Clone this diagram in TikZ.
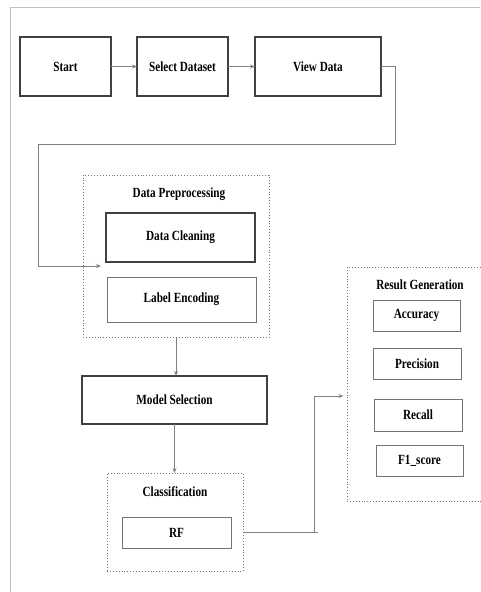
\documentclass[tikz,border=0pt]{standalone}
\usepackage{fontspec}
\setmainfont{Liberation Serif}[FakeStretch=0.8]
\usetikzlibrary{arrows.meta}
\begin{document}
\begin{tikzpicture}[x=1pt,y=-1pt,
  font=\fontsize{14}{16}\selectfont\bfseries,
  every node/.style={inner sep=0pt, outer sep=0pt, text=black},
  thickbox/.style={draw=black!75, line width=1.4pt},
  thinbox/.style={draw=black!55, line width=0.9pt},
  groupbox/.style={draw=black!55, dotted, line width=0.9pt},
  conn/.style={draw=black!50, line width=0.9pt},
  arr/.style={conn, -{Stealth[length=5pt,width=4pt]}},
  frame/.style={draw=black!25, line width=0.8pt}
]
\useasboundingbox (0,0) rectangle (480,592);
\draw[frame] (480,7) -- (10,7) -- (10,592);

% top row
\node[thickbox, minimum width=91pt, minimum height=59pt] (start) at (65.5,66.5) {Start};
\node[thickbox, minimum width=91pt, minimum height=59pt] (select) at (182.5,66.5) {Select Dataset};
\node[thickbox, minimum width=126pt, minimum height=59pt] (view) at (318,66.5) {View Data};

% preprocessing
\node[groupbox, minimum width=186pt, minimum height=162pt] (prep) at (176,256) {};
\node (preptitle) at (179,194) {Data Preprocessing};
\node[thickbox, minimum width=149pt, minimum height=49pt] (clean) at (180.5,237.5) {Data Cleaning};
\node[thinbox, minimum width=149pt, minimum height=45pt] (label) at (181.5,299.5) {Label Encoding};

% model selection
\node[thickbox, minimum width=185pt, minimum height=48pt] (model) at (174.5,400) {Model Selection};

% classification
\node[groupbox, minimum width=136pt, minimum height=98pt] (cls) at (175,522) {};
\node (clstitle) at (175,492) {Classification};
\node[thinbox, minimum width=109pt, minimum height=31pt] (rf) at (176.5,532.5) {RF};

% result generation
\node[groupbox, minimum width=160pt, minimum height=234pt] (res) at (427,384) {};
\node (restitle) at (420,285) {Result Generation};
\node[thinbox, minimum width=87pt, minimum height=31pt] (acc) at (416.5,315.5) {Accuracy};
\node[thinbox, minimum width=88pt, minimum height=31pt] (prec) at (417,363.5) {Precision};
\node[thinbox, minimum width=88pt, minimum height=32pt] (rec) at (418,415) {Recall};
\node[thinbox, minimum width=87pt, minimum height=31pt] (f1) at (419.5,460.5) {F1\_score};

% connectors
\draw[arr] (start.east) -- (select.west);
\draw[arr] (select.east) -- (view.west);
\coordinate (p1) at (395,144);
\coordinate (p2) at (38,266);
\coordinate (pin) at (101,266);
\draw[arr] (view.east) -| (p1) -| (p2) -- (pin);
\draw[arr] (prep.south) -- (prep.south |- model.north);
\draw[arr] (model.south) -- (model.south |- cls.north);
\coordinate (rfout) at (318,532.5);
\coordinate (rj) at (314,532.5);
\coordinate (rtop) at (314,396);
\draw[conn] (cls.east |- rf.east) -- (rfout);
\draw[arr, shorten >=3.5pt] (rj) -- (rtop) -- (rtop -| res.west);
\end{tikzpicture}
\end{document}
